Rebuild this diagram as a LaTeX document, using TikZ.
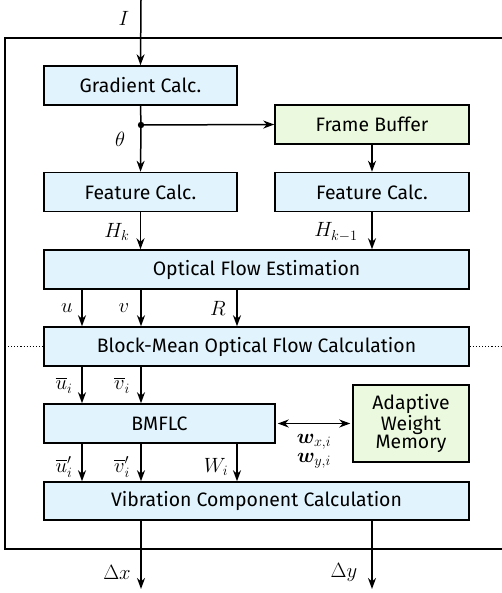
\documentclass[tikz,border=0pt]{standalone}
\usepackage{fontspec}
\setmainfont{Fira Sans}
\usepackage{amsmath,bm}
\usetikzlibrary{arrows.meta}
\definecolor{bluefill}{RGB}{225,243,252}
\definecolor{greenfill}{RGB}{235,250,222}
\tikzset{
  blk/.style={draw=black, line width=1.5bp, fill=bluefill, inner sep=0pt, font=\fontsize{19.5}{22}\selectfont},
  gblk/.style={blk, fill=greenfill},
  arr/.style={line width=1.5bp, -{Stealth[length=11bp,width=8bp,inset=3.5bp]}},
  darr/.style={line width=1.5bp, {Stealth[length=11bp,width=8bp,inset=3.5bp]}-{Stealth[length=11bp,width=8bp,inset=3.5bp]}},
  lbl/.style={font=\fontsize{20.5}{23}\selectfont, inner sep=0pt},
}
\begin{document}
\begin{tikzpicture}[x=1bp,y=-1bp]
\useasboundingbox (0,0) rectangle (502,593);
\begin{scope}
\clip (0,0) rectangle (502,593);
\draw[line width=1.5bp] (5,38) rectangle (520,549);
\end{scope}
% blocks
\node[blk, minimum width=193bp, minimum height=39bp] (grad) at (140.5,85.5) {Gradient Calc.};
\node[gblk, minimum width=194bp, minimum height=39bp] (fb) at (372,124.5) {Frame Buffer};
\node[blk, minimum width=193bp, minimum height=39bp] (fc1) at (140.5,192) {Feature Calc.};
\node[blk, minimum width=194bp, minimum height=39bp] (fc2) at (372,192) {Feature Calc.};
\node[blk, minimum width=425bp, minimum height=39bp] (ofe) at (256.5,269.5) {Optical Flow Estimation};
\node[blk, minimum width=425bp, minimum height=39bp] (bmo) at (256.5,346.5) {Block-Mean Optical Flow Calculation};
\node[blk, minimum width=231bp, minimum height=39bp] (bmflc) at (159.5,423.5) {BMFLC};
\node[gblk, minimum width=116bp, minimum height=77bp, align=center, font=\fontsize{19.5}{18}\selectfont] (awm) at (411,423.5) {Adaptive\\Weight\\Memory};
\node[blk, minimum width=425bp, minimum height=38bp] (vcc) at (256.5,501) {Vibration Component Calculation};
% coordinates
\coordinate (in) at (141,0);
\coordinate (split) at (141,125);
\coordinate (dxend) at (141,589);
\coordinate (dyend) at (372,589);
% dotted line
\draw[line width=1.1bp, dotted] (5,346.5) -- (bmo.west);
\draw[line width=1.1bp, dotted] (bmo.east) -- (502,346.5);
% arrows
\draw[arr] (in) -- (grad.north);
\node[lbl] (lI) at (124,18) {$I$};
\draw[line width=1.5bp] (grad.south) -- (split);
\fill (split) circle (3.2bp);
\draw[arr] (split) -- (fb.west);
\draw[arr] (split) -- (fc1.north);
\node[lbl] (lth) at (120,139) {$\theta$};
\draw[arr] (fb.south) -- (fc2.north);
\draw[arr] (fc1.south) -- (ofe.north -| fc1.south);
\node[lbl] (lHk) at (117,232) {$H_k$};
\draw[arr] (fc2.south) -- (ofe.north -| fc2.south);
\node[lbl] (lHk1) at (336,232) {$H_{k-1}$};
% u v R
\draw[arr] (ofe.south -| 82,0) -- (bmo.north -| 82,0);
\node[lbl] (lu) at (67,308) {$u$};
\draw[arr] (ofe.south -| 141,0) -- (bmo.north -| 141,0);
\node[lbl] (lv) at (124,308) {$v$};
\draw[arr] (ofe.south -| 237,0) -- (bmo.north -| 237,0);
\node[lbl] (lR) at (218,308) {$R$};
% ubar vbar
\draw[arr] (bmo.south -| 82,0) -- (bmflc.north -| 82,0);
\node[lbl] (lub) at (64,385) {$\overline{u}_i$};
\draw[arr] (bmo.south -| 141,0) -- (bmflc.north -| 141,0);
\node[lbl] (lvb) at (122,385) {$\overline{v}_i$};
% double arrow
\draw[darr] ([xshift=2bp]bmflc.east) -- ([xshift=-2bp]awm.west);
\node[lbl, align=center] (lw) at (314,451) {$\bm{w}_{x,i}$\\[-4bp]$\bm{w}_{y,i}$};
% u' v' W
\draw[arr] (bmflc.south -| 82,0) -- (vcc.north -| 82,0);
\node[lbl] (lup) at (64,467) {$\overline{u}'_i$};
\draw[arr] (bmflc.south -| 141,0) -- (vcc.north -| 141,0);
\node[lbl] (lvp) at (122,467) {$\overline{v}'_i$};
\draw[arr] (bmflc.south -| 237,0) -- (vcc.north -| 237,0);
\node[lbl] (lW) at (216,467) {$W_i$};
% outputs
\draw[arr] (vcc.south -| dxend) -- (dxend);
\node[lbl] (ldx) at (117,572) {$\Delta x$};
\draw[arr] (vcc.south -| dyend) -- (dyend);
\node[lbl] (ldy) at (344,572) {$\Delta y$};
\end{tikzpicture}
\end{document}
